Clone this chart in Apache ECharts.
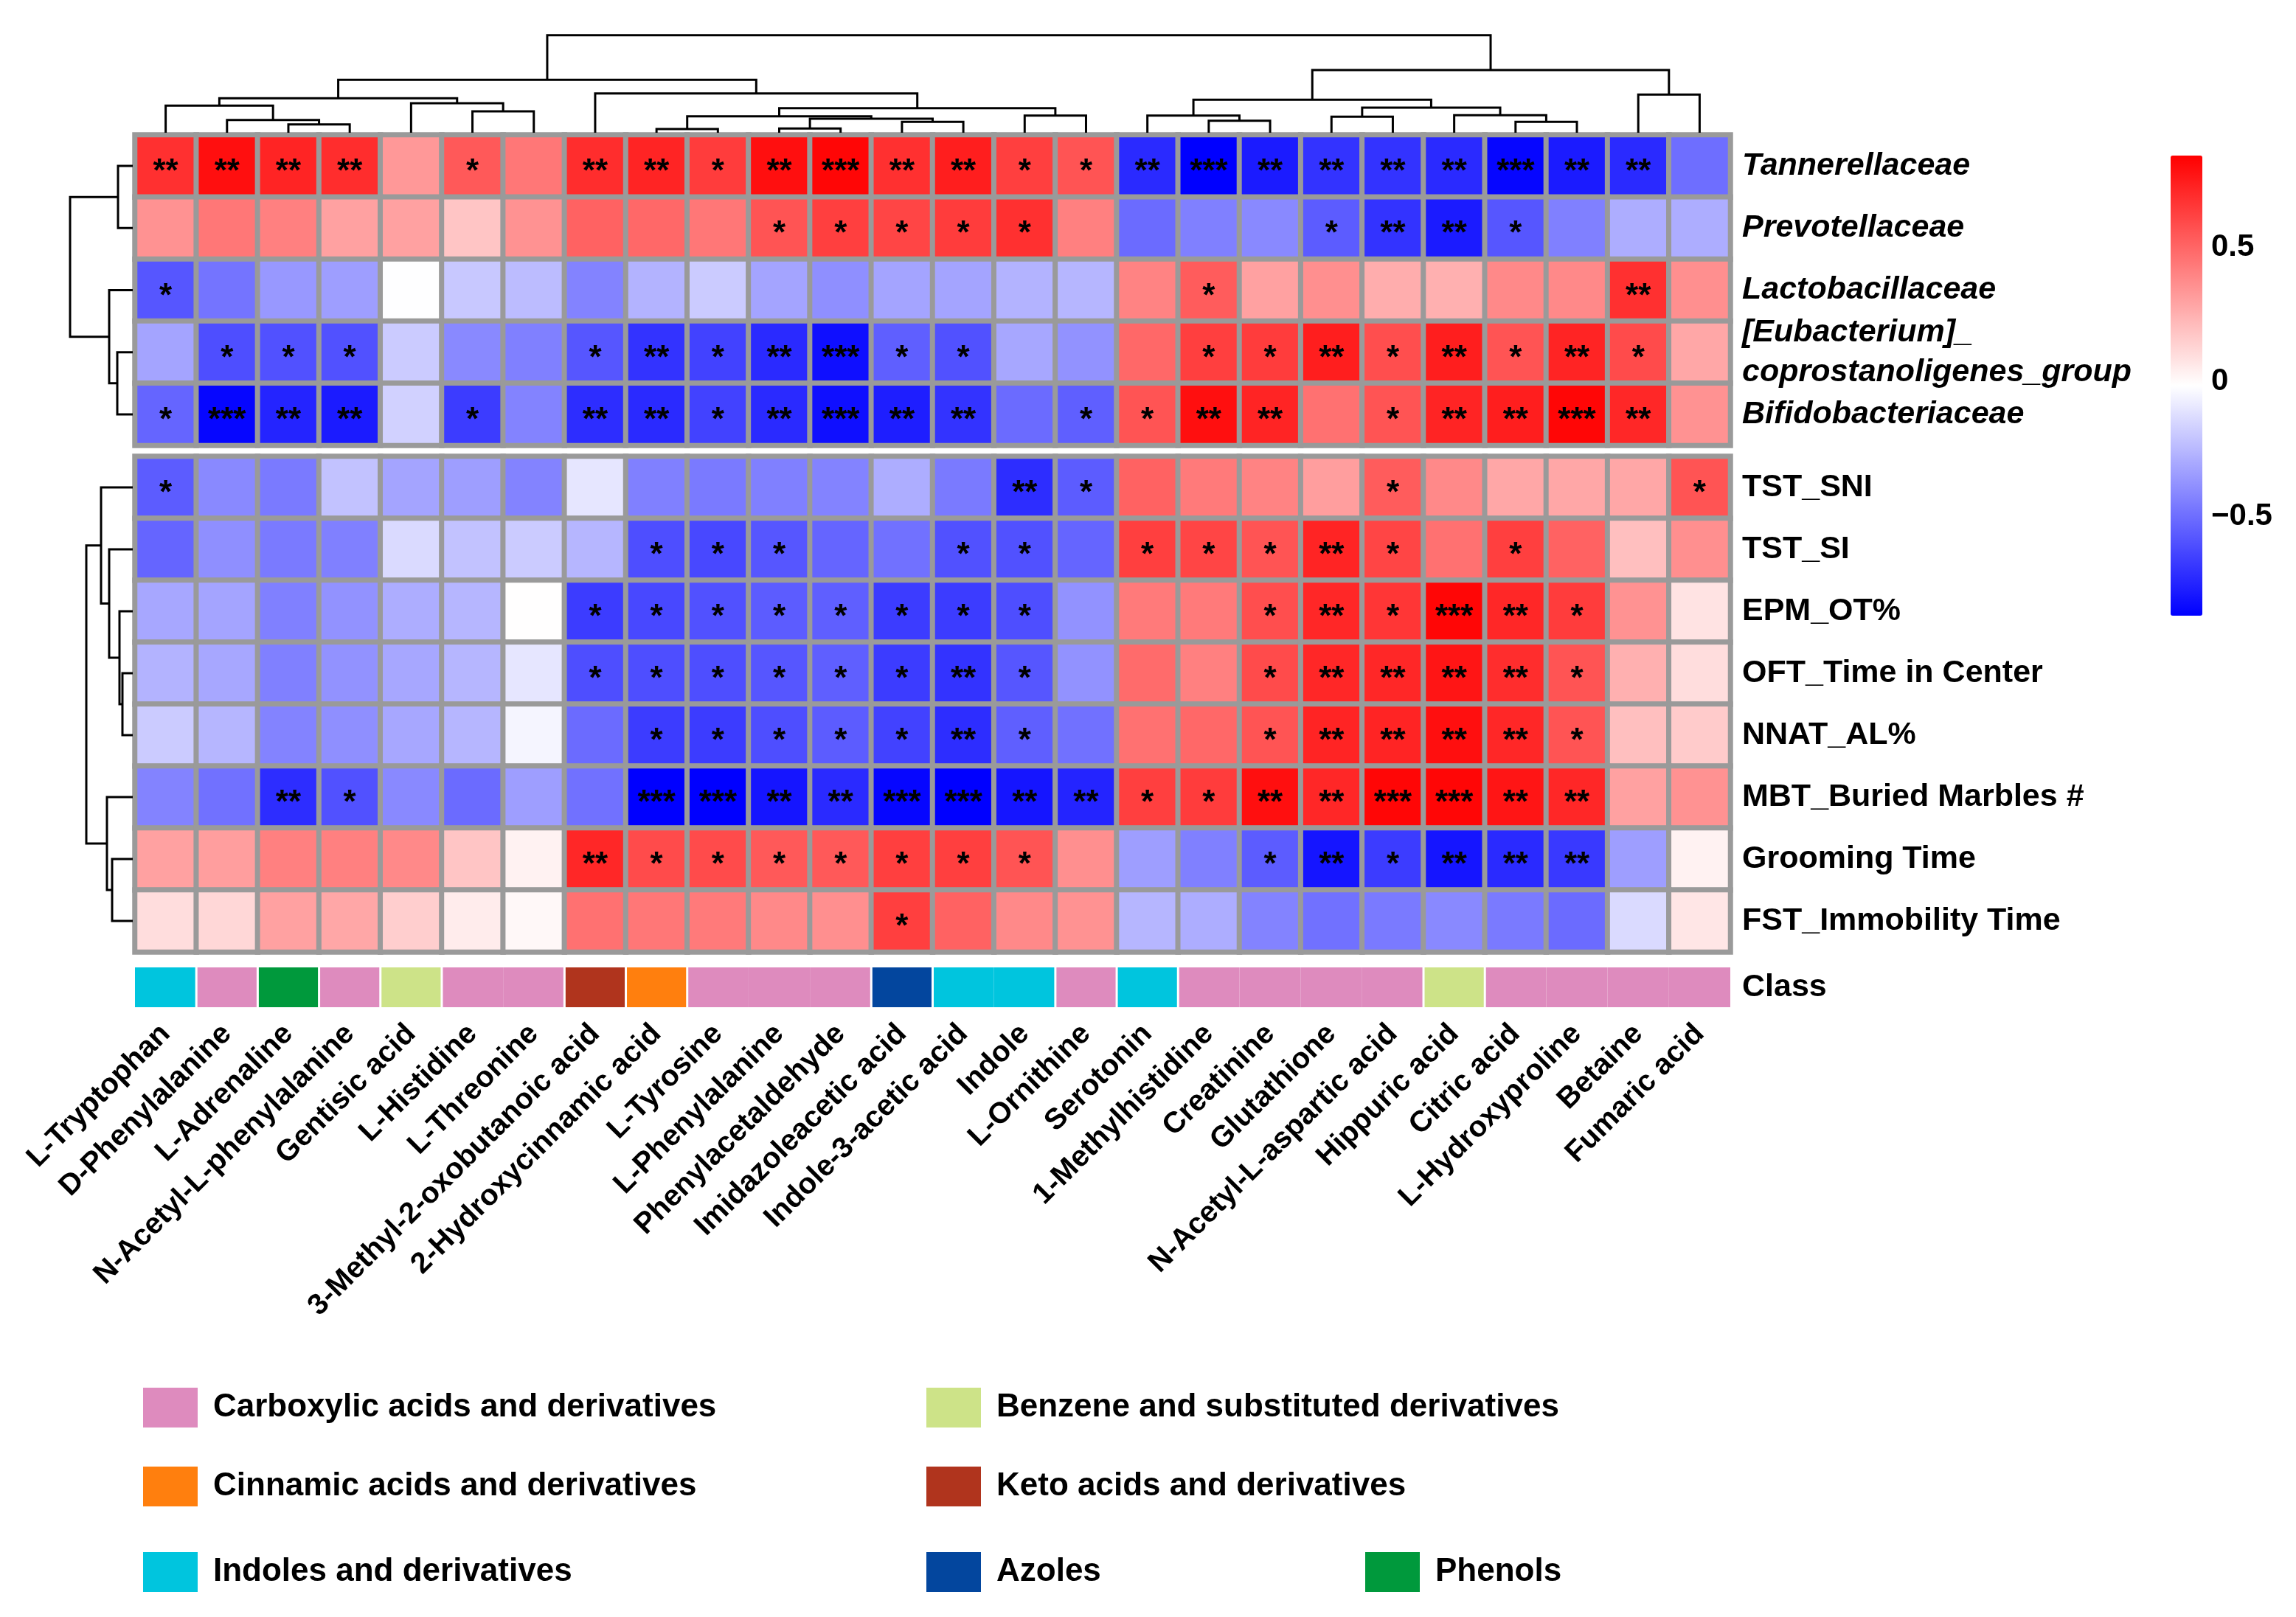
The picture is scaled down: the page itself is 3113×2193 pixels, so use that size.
<!DOCTYPE html>
<html><head><meta charset="utf-8">
<script src="https://cdn.jsdelivr.net/npm/echarts@6/dist/echarts.min.js"></script>
<style>html,body{margin:0;padding:0;background:#fff}#c{width:3113px;height:2193px}</style>
</head><body><div id="c"></div>
<script>
// ---------------- data ----------------
const columns = ['L-Tryptophan','D-Phenylalanine','L-Adrenaline','N-Acetyl-L-phenylalanine','Gentisic acid','L-Histidine','L-Threonine','3-Methyl-2-oxobutanoic acid','2-Hydroxycinnamic acid','L-Tyrosine','L-Phenylalanine','Phenylacetaldehyde','Imidazoleacetic acid','Indole-3-acetic acid','Indole','L-Ornithine','Serotonin','1-Methylhistidine','Creatinine','Glutathione','N-Acetyl-L-aspartic acid','Hippuric acid','Citric acid','L-Hydroxyproline','Betaine','Fumaric acid'];
const topRows = ['Tannerellaceae','Prevotellaceae','Lactobacillaceae','[Eubacterium]_\ncoprostanoligenes_group','Bifidobacteriaceae'];
const bottomRows = ['TST_SNI','TST_SI','EPM_OT%','OFT_Time in Center','NNAT_AL%','MBT_Buried Marbles #','Grooming Time','FST_Immobility Time'];

const valTannerellaceae = [0.68,0.79,0.72,0.69,0.33,0.54,0.44,0.69,0.72,0.64,0.79,0.82,0.68,0.74,0.63,0.56,-0.73,-0.87,-0.78,-0.70,-0.70,-0.73,-0.85,-0.78,-0.73,-0.50];
const valPrevotellaceae = [0.35,0.44,0.41,0.30,0.30,0.18,0.35,0.51,0.49,0.44,0.56,0.63,0.61,0.64,0.68,0.41,-0.51,-0.44,-0.41,-0.56,-0.70,-0.78,-0.58,-0.44,-0.29,-0.29];
const valLactobacillaceae = [-0.58,-0.48,-0.36,-0.34,-0.02,-0.20,-0.24,-0.43,-0.27,-0.19,-0.32,-0.39,-0.32,-0.32,-0.27,-0.26,0.40,0.53,0.30,0.36,0.26,0.25,0.38,0.38,0.68,0.36];
const valEubacterium = [-0.32,-0.61,-0.60,-0.60,-0.19,-0.41,-0.44,-0.58,-0.70,-0.65,-0.73,-0.82,-0.55,-0.60,-0.31,-0.38,0.49,0.63,0.64,0.74,0.58,0.74,0.56,0.72,0.59,0.28];
const valBifidobacteriaceae = [-0.53,-0.85,-0.75,-0.78,-0.17,-0.67,-0.43,-0.72,-0.73,-0.65,-0.73,-0.82,-0.77,-0.70,-0.51,-0.55,0.56,0.79,0.72,0.46,0.56,0.72,0.74,0.82,0.71,0.35];

const valTST_SNI = [-0.56,-0.41,-0.46,-0.22,-0.32,-0.34,-0.43,-0.10,-0.44,-0.46,-0.44,-0.43,-0.29,-0.46,-0.72,-0.56,0.51,0.43,0.40,0.31,0.53,0.38,0.28,0.28,0.28,0.56];
const valTST_SI = [-0.53,-0.39,-0.46,-0.44,-0.14,-0.22,-0.19,-0.26,-0.61,-0.63,-0.58,-0.53,-0.49,-0.60,-0.60,-0.53,0.63,0.61,0.56,0.72,0.61,0.46,0.63,0.51,0.20,0.36];
const valEPM = [-0.31,-0.32,-0.44,-0.38,-0.29,-0.26,-0.01,-0.67,-0.63,-0.60,-0.56,-0.55,-0.67,-0.67,-0.61,-0.38,0.43,0.43,0.58,0.71,0.66,0.82,0.71,0.64,0.35,0.08];
const valOFT = [-0.27,-0.31,-0.44,-0.38,-0.31,-0.26,-0.10,-0.61,-0.61,-0.61,-0.58,-0.55,-0.67,-0.70,-0.58,-0.38,0.48,0.41,0.59,0.71,0.71,0.77,0.69,0.56,0.25,0.10];
const valNNAT = [-0.19,-0.26,-0.43,-0.39,-0.31,-0.26,-0.05,-0.51,-0.67,-0.67,-0.61,-0.56,-0.65,-0.72,-0.55,-0.49,0.46,0.49,0.56,0.72,0.72,0.79,0.71,0.56,0.20,0.16];
const valMBT = [-0.43,-0.49,-0.72,-0.60,-0.41,-0.51,-0.34,-0.49,-0.87,-0.87,-0.80,-0.73,-0.85,-0.87,-0.80,-0.75,0.63,0.64,0.79,0.71,0.82,0.82,0.77,0.71,0.30,0.35];
const valGrooming = [0.30,0.31,0.41,0.41,0.38,0.18,0.03,0.71,0.59,0.59,0.54,0.54,0.63,0.63,0.56,0.36,-0.34,-0.44,-0.56,-0.80,-0.67,-0.80,-0.73,-0.68,-0.34,0.03];
const valFST = [0.10,0.12,0.30,0.28,0.15,0.05,0.01,0.46,0.44,0.43,0.38,0.36,0.63,0.51,0.38,0.35,-0.26,-0.29,-0.43,-0.49,-0.46,-0.41,-0.46,-0.51,-0.14,0.07];

// significance: number of stars
const sigTannerellaceae = [2,2,2,2,0,1,0,2,2,1,2,3,2,2,1,1,2,3,2,2,2,2,3,2,2,0];
const sigPrevotellaceae = [0,0,0,0,0,0,0,0,0,0,1,1,1,1,1,0,0,0,0,1,2,2,1,0,0,0];
const sigLactobacillaceae = [1,0,0,0,0,0,0,0,0,0,0,0,0,0,0,0,0,1,0,0,0,0,0,0,2,0];
const sigEubacterium = [0,1,1,1,0,0,0,1,2,1,2,3,1,1,0,0,0,1,1,2,1,2,1,2,1,0];
const sigBifidobacteriaceae = [1,3,2,2,0,1,0,2,2,1,2,3,2,2,0,1,1,2,2,0,1,2,2,3,2,0];
const sigTST_SNI = [1,0,0,0,0,0,0,0,0,0,0,0,0,0,2,1,0,0,0,0,1,0,0,0,0,1];
const sigTST_SI = [0,0,0,0,0,0,0,0,1,1,1,0,0,1,1,0,1,1,1,2,1,0,1,0,0,0];
const sigEPM = [0,0,0,0,0,0,0,1,1,1,1,1,1,1,1,0,0,0,1,2,1,3,2,1,0,0];
const sigOFT = [0,0,0,0,0,0,0,1,1,1,1,1,1,2,1,0,0,0,1,2,2,2,2,1,0,0];
const sigNNAT = [0,0,0,0,0,0,0,0,1,1,1,1,1,2,1,0,0,0,1,2,2,2,2,1,0,0];
const sigMBT = [0,0,2,1,0,0,0,0,3,3,2,2,3,3,2,2,1,1,2,2,3,3,2,2,0,0];
const sigGrooming = [0,0,0,0,0,0,0,2,1,1,1,1,1,1,1,0,0,0,1,2,1,2,2,2,0,0];
const sigFST = [0,0,0,0,0,0,0,0,0,0,0,0,1,0,0,0,0,0,0,0,0,0,0,0,0,0];

// class annotation
const classNames = ['Carboxylic acids and derivatives','Benzene and substituted derivatives','Cinnamic acids and derivatives','Keto acids and derivatives','Indoles and derivatives','Azoles','Phenols'];
const classColors = ['#DE8BBE','#CDE388','#FF7F0E','#B0341D','#00C5DE','#03469E','#00993C'];
const columnClass = [4,0,6,0,1,0,0,3,2,0,0,0,5,4,4,0,4,0,0,0,0,1,0,0,0,0];

// dendrograms (hclust-style merges: negative = leaf, positive = earlier merge; last = height)
const colTreeMerges = [[-3,-4,11.3],[-2,1,17.3],[-1,2,36.7],[-6,-7,29],[-5,4,40],[3,5,46.7],[-9,-10,5],[-11,-12,5.7],[-13,-14,14.7],[8,9,19],[7,10,22.3],[-15,-16,23.3],[11,12,33.3],[-8,13,53.3],[6,14,71.7],[-18,-19,16.3],[-17,16,23.3],[-20,-21,21.7],[-23,-24,14.7],[-22,19,23.7],[18,20,34],[17,21,44.7],[-25,-26,51.7],[22,23,85],[15,24,132.3]];
const topRowTreeMerges = [[-1,-2,20],[-4,-5,21],[-3,2,32],[1,3,85]];
const bottomRowTreeMerges = [[-4,-5,14],[-3,1,18],[-2,2,32],[-1,3,43],[-7,-8,28],[-6,5,35],[4,6,63]];

const colorTicks = [-0.5, 0, 0.5];
const colorMin = -0.87, colorMax = 0.84;

// ---------------- build ----------------
const topVals = [valTannerellaceae,valPrevotellaceae,valLactobacillaceae,valEubacterium,valBifidobacteriaceae];
const topSig = [sigTannerellaceae,sigPrevotellaceae,sigLactobacillaceae,sigEubacterium,sigBifidobacteriaceae];
const botVals = [valTST_SNI,valTST_SI,valEPM,valOFT,valNNAT,valMBT,valGrooming,valFST];
const botSig = [sigTST_SNI,sigTST_SI,sigEPM,sigOFT,sigNNAT,sigMBT,sigGrooming,sigFST];

function cells(vals, sig) {
  const out = [];
  vals.forEach((row, r) => row.forEach((v, c) => out.push([c, r, v, sig[r][c]])));
  return out;
}
function dendro(merges) {
  const pos = [], hts = [];
  return merges.map(m => {
    const p = k => k < 0 ? [(-k - 1) + 0.5, 0] : [pos[k - 1], hts[k - 1]];
    const a = p(m[0]), b = p(m[1]);
    pos.push((a[0] + b[0]) / 2); hts.push(m[2]);
    return [a[0], a[1], b[0], b[1], m[2]];
  });
}

const FONT = "'Liberation Sans', Arial, Helvetica, sans-serif";
const GREY = '#9a9a9a';
const L = 183, W = 2163;
const LINE = {stroke: '#000', lineWidth: 3, fill: 'none'};

const hiddenCat = (data, gi, extra) => Object.assign({type: 'category', data, gridIndex: gi, axisLine: {show: false}, axisTick: {show: false}, axisLabel: {show: false}, splitLine: {show: false}}, extra || {});
const hiddenVal = (gi, extra) => Object.assign({type: 'value', gridIndex: gi, axisLine: {show: false}, axisTick: {show: false}, axisLabel: {show: false}, splitLine: {show: false}}, extra || {});

const starLabel = {
  show: true, color: '#000', fontSize: 44, fontWeight: 'bold', fontFamily: FONT, offset: [0, 9],
  formatter: p => '*'.repeat(p.data[3])
};
const rowLabel = (italic) => ({show: true, color: '#000', fontSize: 43, fontWeight: 'bold', fontStyle: italic ? 'italic' : 'normal', fontFamily: FONT, margin: 16, lineHeight: 54});

const graphics = [];
const legendSlots = [[194,1882],[1256,1882],[194,1989],[1256,1989],[194,2105],[1256,2105],[1851,2105]];
classNames.forEach((name, i) => {
  const [x, y] = legendSlots[i];
  graphics.push({type: 'rect', left: x, top: y, shape: {width: 74, height: 54}, style: {fill: classColors[i]}});
  graphics.push({type: 'text', left: x + 95, top: y + 27 - 25, style: {text: name, fontSize: 44, fontWeight: 'bold', fontFamily: FONT, fill: '#000', lineHeight: 50}});
});

const option = {
  animation: false,
  backgroundColor: '#fff',
  grid: [
    {left: L, width: W, top: 183, height: 421, show: true, borderColor: GREY, borderWidth: 4, backgroundColor: GREY},
    {left: L, width: W, top: 619, height: 672, show: true, borderColor: GREY, borderWidth: 4, backgroundColor: GREY},
    {left: L, width: W, top: 1312, height: 54},
    {left: L, width: W, top: 45, height: 135},
    {left: 90, width: 90, top: 183, height: 421},
    {left: 90, width: 90, top: 619, height: 672},
    {left: 2943, width: 43, top: 211, height: 624}
  ],
  xAxis: [
    hiddenCat(columns, 0),
    hiddenCat(columns, 1),
    hiddenCat(columns, 2, {axisLabel: {show: true, interval: 0, rotate: 45, fontSize: 40, fontWeight: 'bold', fontFamily: FONT, color: '#000', margin: 30}}),
    hiddenVal(3, {min: 0, max: columns.length}),
    hiddenVal(4, {min: 0, max: 90, inverse: true}),
    hiddenVal(5, {min: 0, max: 90, inverse: true}),
    hiddenVal(6, {min: 0, max: 1})
  ],
  yAxis: [
    hiddenCat(topRows, 0, {inverse: true, position: 'right', axisLabel: rowLabel(true)}),
    hiddenCat(bottomRows, 1, {inverse: true, position: 'right', axisLabel: rowLabel(false)}),
    hiddenCat(['Class'], 2, {position: 'right', axisLabel: rowLabel(false)}),
    hiddenVal(3, {min: 0, max: 135}),
    hiddenVal(4, {min: 0, max: topRows.length, inverse: true}),
    hiddenVal(5, {min: 0, max: bottomRows.length, inverse: true}),
    hiddenVal(6, {min: colorMin, max: colorMax, position: 'right',
      axisLabel: {show: true, customValues: colorTicks, margin: 12, fontSize: 42, fontWeight: 'bold', fontFamily: FONT, color: '#000',
        formatter: v => v < 0 ? '\u2212' + Math.abs(v) : String(v)}})
  ],
  visualMap: {
    type: 'continuous', min: colorMin, max: colorMax, dimension: 2, seriesIndex: [0, 1],
    left: 2943, top: 211, itemWidth: 43, itemHeight: 624, padding: 0, calculable: false, hoverLink: false,
    orient: 'vertical', inRange: {color: ['#0000ff', '#ffffff', '#ff0000']}
  },
  series: [
    {type: 'heatmap', xAxisIndex: 0, yAxisIndex: 0, data: cells(topVals, topSig), label: starLabel,
      itemStyle: {borderColor: GREY, borderWidth: 7}, emphasis: {disabled: true}},
    {type: 'heatmap', xAxisIndex: 1, yAxisIndex: 1, data: cells(botVals, botSig), label: starLabel,
      itemStyle: {borderColor: GREY, borderWidth: 7}, emphasis: {disabled: true}},
    {type: 'custom', xAxisIndex: 2, yAxisIndex: 2, data: columnClass.map((k, i) => [i, 0, k]),
      renderItem: (params, api) => {
        const i = api.value(0), k = api.value(2);
        const c = api.coord([i, 0]), s = api.size([1, 1]);
        const prevDiff = i > 0 && columnClass[i - 1] !== k;
        const nextDiff = i < columnClass.length - 1 && columnClass[i + 1] !== k;
        const x0 = c[0] - s[0] / 2 + (prevDiff ? 1.5 : 0);
        const x1 = c[0] + s[0] / 2 - (nextDiff ? 1.5 : 0);
        return {type: 'rect', shape: {x: x0, y: c[1] - s[1] / 2, width: x1 - x0, height: s[1]}, style: {fill: classColors[k]}};
      }},
    {type: 'custom', xAxisIndex: 3, yAxisIndex: 3, data: dendro(colTreeMerges),
      renderItem: (params, api) => {
        const pa = api.value(0), ha = api.value(1), pb = api.value(2), hb = api.value(3), h = api.value(4);
        return {type: 'polyline', shape: {points: [api.coord([pa, ha]), api.coord([pa, h]), api.coord([pb, h]), api.coord([pb, hb])]}, style: LINE};
      }},
    {type: 'custom', xAxisIndex: 4, yAxisIndex: 4, data: dendro(topRowTreeMerges),
      renderItem: (params, api) => {
        const pa = api.value(0), ha = api.value(1), pb = api.value(2), hb = api.value(3), h = api.value(4);
        return {type: 'polyline', shape: {points: [api.coord([ha, pa]), api.coord([h, pa]), api.coord([h, pb]), api.coord([hb, pb])]}, style: LINE};
      }},
    {type: 'custom', xAxisIndex: 5, yAxisIndex: 5, data: dendro(bottomRowTreeMerges),
      renderItem: (params, api) => {
        const pa = api.value(0), ha = api.value(1), pb = api.value(2), hb = api.value(3), h = api.value(4);
        return {type: 'polyline', shape: {points: [api.coord([ha, pa]), api.coord([h, pa]), api.coord([h, pb]), api.coord([hb, pb])]}, style: LINE};
      }}
  ],
  graphic: graphics
};

const chart = echarts.init(document.getElementById('c'), null, {renderer: 'canvas'});
chart.setOption(option);
</script>
</body></html>
